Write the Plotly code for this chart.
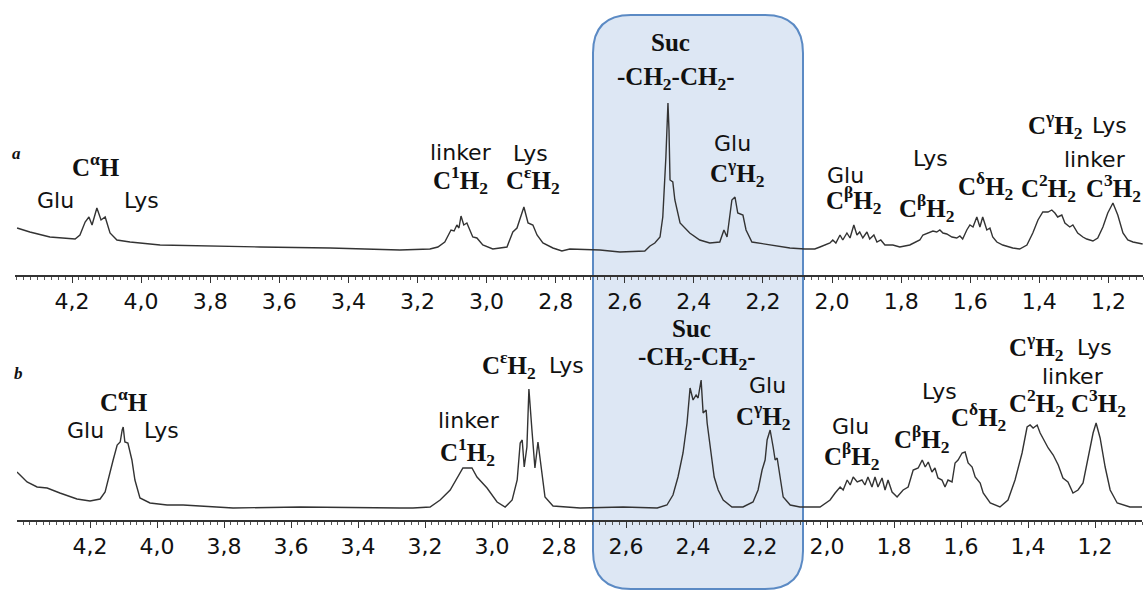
import plotly.graph_objects as go

W, H = 1147, 592

# ---------------- data ----------------
# spectrum a : chemical shift (ppm) and intensity (a.u.)
PPM_A = [4.359, 4.322, 4.264, 4.235, 4.191, 4.177, 4.162, 4.151, 4.142, 4.128, 4.116, 4.104, 4.090, 4.070, 4.032,
         3.945, 3.830, 3.656, 3.453, 3.309, 3.251, 3.164, 3.141, 3.121, 3.103, 3.094, 3.086, 3.080, 3.074, 3.066,
         3.057, 3.040, 3.028, 3.011, 2.982, 2.941, 2.924, 2.912, 2.892, 2.880, 2.866, 2.854, 2.837, 2.808, 2.782,
         2.759, 2.672, 2.614, 2.542, 2.527, 2.513, 2.498, 2.490, 2.481, 2.475, 2.472, 2.469, 2.461, 2.455, 2.440,
         2.412, 2.383, 2.354, 2.325, 2.313, 2.304, 2.290, 2.281, 2.273, 2.258, 2.249, 2.232, 2.180, 2.122, 2.079,
         2.050, 2.035, 2.021, 2.006, 1.998, 1.989, 1.977, 1.969, 1.957, 1.948, 1.937, 1.928, 1.920, 1.911, 1.899,
         1.891, 1.879, 1.870, 1.859, 1.847, 1.824, 1.804, 1.775, 1.760, 1.746, 1.737, 1.723, 1.708, 1.697, 1.688,
         1.679, 1.668, 1.653, 1.639, 1.630, 1.622, 1.610, 1.601, 1.592, 1.581, 1.572, 1.564, 1.552, 1.543, 1.535,
         1.523, 1.506, 1.477, 1.457, 1.436, 1.419, 1.404, 1.390, 1.375, 1.364, 1.355, 1.347, 1.335, 1.326, 1.312,
         1.303, 1.289, 1.274, 1.263, 1.245, 1.231, 1.216, 1.202, 1.187, 1.173, 1.158, 1.144, 1.129, 1.101]
INT_A = [47, 43, 38, 37, 36, 40, 53, 58, 50, 67, 55, 58, 42, 35, 33,
         30, 29, 28, 27, 26, 25, 26, 28, 33, 45, 44, 50, 47, 59, 50,
         52, 38, 37, 30, 26, 28, 43, 47, 68, 52, 50, 40, 32, 27, 24,
         26, 25, 23, 24, 29, 32, 38, 58, 118, 172, 145, 95, 93, 75, 52,
         42, 35, 32, 33, 45, 38, 75, 78, 62, 60, 45, 33, 30, 27, 26,
         26, 28, 30, 32, 35, 32, 40, 35, 42, 37, 50, 40, 43, 37, 43,
         36, 40, 33, 35, 30, 30, 28, 30, 33, 35, 40, 42, 44, 43, 45,
         42, 41, 38, 37, 39, 36, 45, 50, 48, 58, 48, 58, 45, 47, 38,
         33, 30, 27, 26, 30, 42, 55, 63, 63, 65, 62, 58, 60, 52, 48,
         50, 42, 38, 36, 34, 37, 48, 62, 72, 60, 42, 35, 33, 31]

# spectrum b
PPM_B = [4.418, 4.388, 4.358, 4.328, 4.290, 4.239, 4.200, 4.170, 4.155, 4.140, 4.131, 4.119, 4.110, 4.104, 4.101,
         4.096, 4.087, 4.075, 4.066, 4.051, 4.021, 3.970, 3.922, 3.773, 3.573, 3.275, 3.236, 3.185, 3.155, 3.125,
         3.101, 3.087, 3.060, 3.045, 3.015, 2.985, 2.961, 2.940, 2.925, 2.916, 2.910, 2.904, 2.896, 2.890, 2.881,
         2.872, 2.863, 2.851, 2.842, 2.818, 2.737, 2.609, 2.507, 2.478, 2.460, 2.445, 2.430, 2.418, 2.409, 2.400,
         2.391, 2.385, 2.376, 2.370, 2.361, 2.358, 2.349, 2.337, 2.325, 2.310, 2.284, 2.251, 2.221, 2.206, 2.194,
         2.185, 2.179, 2.170, 2.161, 2.155, 2.149, 2.140, 2.131, 2.110, 2.081, 2.021, 1.991, 1.976, 1.961, 1.952,
         1.940, 1.931, 1.922, 1.910, 1.896, 1.887, 1.878, 1.866, 1.857, 1.848, 1.836, 1.827, 1.818, 1.806, 1.791,
         1.773, 1.758, 1.743, 1.728, 1.716, 1.707, 1.698, 1.687, 1.678, 1.669, 1.657, 1.648, 1.639, 1.627, 1.618,
         1.609, 1.597, 1.588, 1.579, 1.567, 1.558, 1.543, 1.534, 1.513, 1.484, 1.460, 1.439, 1.418, 1.403, 1.394,
         1.385, 1.373, 1.364, 1.349, 1.340, 1.325, 1.310, 1.296, 1.281, 1.266, 1.251, 1.236, 1.221, 1.206, 1.197,
         1.185, 1.170, 1.155, 1.134, 1.096, 1.060]
INT_B = [48, 38, 33, 32, 27, 21, 19, 21, 28, 50, 60, 75, 78, 90, 93,
         78, 77, 60, 40, 22, 17, 15, 15, 12, 13, 12, 12, 13, 20, 30,
         43, 52, 52, 43, 32, 18, 13, 20, 40, 77, 80, 53, 73, 131, 90,
         52, 78, 47, 23, 14, 12, 13, 12, 15, 25, 43, 67, 97, 132, 120,
         125, 122, 140, 107, 110, 97, 73, 43, 30, 20, 13, 13, 18, 30, 50,
         60, 80, 90, 73, 60, 62, 43, 23, 15, 13, 13, 20, 27, 33, 30,
         40, 35, 43, 38, 40, 35, 43, 33, 43, 33, 42, 30, 40, 28, 23,
         30, 33, 50, 52, 60, 53, 58, 48, 52, 42, 40, 33, 40, 38, 57,
         60, 67, 68, 57, 53, 43, 37, 27, 17, 13, 20, 40, 67, 93, 95,
         92, 95, 87, 77, 72, 65, 55, 42, 38, 27, 30, 37, 63, 87, 97,
         82, 53, 30, 17, 13, 13]

TICK_VALS = [4.2, 4.0, 3.8, 3.6, 3.4, 3.2, 3.0, 2.8, 2.6, 2.4, 2.2, 2.0, 1.8, 1.6, 1.4, 1.2]
TICK_TEXT = ["4,2", "4,0", "3,8", "3,6", "3,4", "3,2", "3,0", "2,8", "2,6", "2,4", "2,2",
             "2,0", "1,8", "1,6", "1,4", "1,2"]

# ---------------- figure ----------------
LINE = "#333333"
fig = go.Figure()
fig.add_trace(go.Scatter(x=PPM_A, y=INT_A, mode="lines", line=dict(color=LINE, width=1.4),
                         xaxis="x", yaxis="y", showlegend=False, hoverinfo="skip"))
fig.add_trace(go.Scatter(x=PPM_B, y=INT_B, mode="lines", line=dict(color=LINE, width=1.4),
                         xaxis="x2", yaxis="y2", showlegend=False, hoverinfo="skip"))


def px(x, y):
    return x / W, 1 - y / H


def xaxis_style(domain, rng, anchor):
    return dict(domain=domain, range=rng, anchor=anchor, showline=True, linecolor="#333",
                linewidth=2, showgrid=False, zeroline=False, ticks="outside", ticklen=6,
                tickwidth=1.2, tickcolor="#333", tickvals=TICK_VALS, ticktext=TICK_TEXT,
                tickfont=dict(family="DejaVu Sans", size=22, color="#111"),
                minor=dict(ticks="outside", ticklen=3, tickwidth=1, tickcolor="#555", dtick=0.02, tick0=0,
                           showgrid=False))


fig.update_layout(
    width=W, height=H, margin=dict(l=0, r=0, t=0, b=0),
    paper_bgcolor="white", plot_bgcolor="rgba(0,0,0,0)",
    xaxis=xaxis_style([15 / W, 1143 / W], [4.365, 1.100], "y"),
    yaxis=dict(domain=[1 - 275 / H, 1], range=[0, 275], visible=False),
    xaxis2=xaxis_style([17 / W, 1142 / W], [4.418, 1.060], "y2"),
    yaxis2=dict(domain=[1 - 520 / H, 1 - 300 / H], range=[0, 220], visible=False),
)

# rounded highlight box
L, R, T, B, r = 593, 803, 15, 589, 38


def P(x, y):
    a, b = px(x, y)
    return f"{a:.5f},{b:.5f}"


path = (f"M {P(L + r, T)} L {P(R - r, T)} Q {P(R, T)} {P(R, T + r)} L {P(R, B - r)} "
        f"Q {P(R, B)} {P(R - r, B)} L {P(L + r, B)} Q {P(L, B)} {P(L, B - r)} "
        f"L {P(L, T + r)} Q {P(L, T)} {P(L + r, T)} Z")
fig.add_shape(type="path", path=path, xref="paper", yref="paper", layer="below",
              fillcolor="#dde7f4", line=dict(color="#5b8ac4", width=2))

SANS = dict(family="DejaVu Sans", size=22, color="#111")
SERIF = dict(family="Liberation Serif", size=25, color="#111", weight="bold")
LETTER = dict(family="Liberation Serif", size=17, color="#111", weight="bold", style="italic")

labels = [
    # panel a
    ("a", 16, 153, LETTER),
    ("C<sup>α</sup>H", 96, 165, SERIF),
    ("Glu", 55, 200, SANS), ("Lys", 141, 201, SANS),
    ("linker", 461, 152, SANS), ("C<sup>1</sup>H<sub>2</sub>", 460, 180, SERIF),
    ("Lys", 530, 153, SANS), ("C<sup>ε</sup>H<sub>2</sub>", 533, 180, SERIF),
    ("Suc", 670, 43, SERIF), ("-CH<sub>2</sub>-CH<sub>2</sub>-", 675, 78, SERIF),
    ("Glu", 732, 143, SANS), ("C<sup>γ</sup>H<sub>2</sub>", 737, 173, SERIF),
    ("Glu", 845, 175, SANS), ("C<sup>β</sup>H<sub>2</sub>", 854, 200, SERIF),
    ("Lys", 930, 158, SANS), ("C<sup>β</sup>H<sub>2</sub>", 927, 208, SERIF),
    ("C<sup>δ</sup>H<sub>2</sub>", 985, 186, SERIF),
    ("C<sup>γ</sup>H<sub>2</sub>", 1055, 125, SERIF), ("Lys", 1109, 125, SANS),
    ("linker", 1095, 159, SANS),
    ("C<sup>2</sup>H<sub>2</sub>", 1048, 188, SERIF), ("C<sup>3</sup>H<sub>2</sub>", 1113, 188, SERIF),
    # panel b
    ("b", 18, 373, LETTER),
    ("C<sup>α</sup>H", 124, 400, SERIF),
    ("Glu", 85, 430, SANS), ("Lys", 161, 430, SANS),
    ("C<sup>ε</sup>H<sub>2</sub>", 509, 365, SERIF), ("Lys", 566, 365, SANS),
    ("linker", 469, 420, SANS), ("C<sup>1</sup>H<sub>2</sub>", 467, 452, SERIF),
    ("Suc", 691, 328, SERIF), ("-CH<sub>2</sub>-CH<sub>2</sub>-", 696, 358, SERIF),
    ("Glu", 767, 386, SANS), ("C<sup>γ</sup>H<sub>2</sub>", 763, 416, SERIF),
    ("Glu", 850, 426, SANS), ("C<sup>β</sup>H<sub>2</sub>", 852, 456, SERIF),
    ("Lys", 939, 391, SANS), ("C<sup>β</sup>H<sub>2</sub>", 922, 439, SERIF),
    ("C<sup>δ</sup>H<sub>2</sub>", 978, 417, SERIF),
    ("C<sup>γ</sup>H<sub>2</sub>", 1036, 347, SERIF), ("Lys", 1094, 347, SANS),
    ("linker", 1073, 376, SANS),
    ("C<sup>2</sup>H<sub>2</sub>", 1036, 403, SERIF), ("C<sup>3</sup>H<sub>2</sub>", 1098, 403, SERIF),
]
for text, x, y, font in labels:
    ax, ay = px(x, y)
    fig.add_annotation(text=text, x=ax, y=ay, xref="paper", yref="paper", showarrow=False,
                       xanchor="center", yanchor="middle", font=font)

fig.write_html("out.html")
